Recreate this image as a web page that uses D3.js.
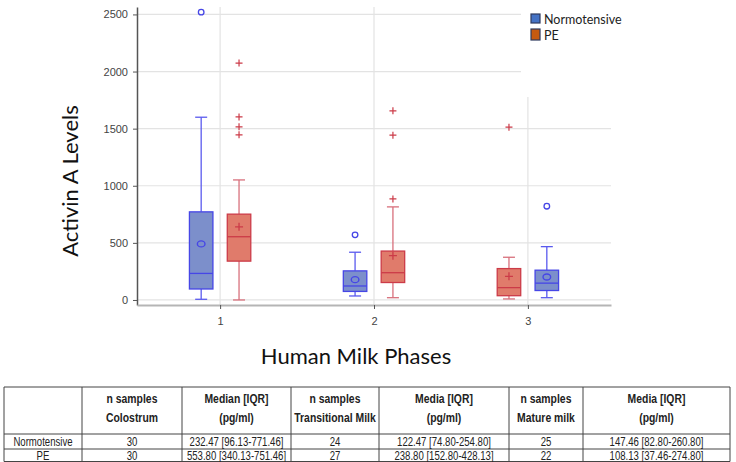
<!DOCTYPE html>
<html>
<head>
<meta charset="utf-8">
<script src="https://cdn.jsdelivr.net/npm/d3@7"></script>
<style>
  body { margin: 0; background: #fff; }
  svg { display: block; }
</style>
</head>
<body>
<svg></svg>
<script>
// phases on the x axis
const phases = [1, 2, 3];
const groups = ["Normotensive", "PE"];

// Normotensive box stats, one entry per phase
const normoMin = [6, 35, 20];
const normoQ1 = [96.13, 74.8, 82.8];
const normoMedian = [232.47, 122.47, 147.46];
const normoQ3 = [771.46, 254.8, 260.8];
const normoMax = [1600, 418, 467];
const normoMean = [491, 178, 201];
const normoOutliers = [[2520], [570], [821]];

// PE box stats
const peMin = [0, 20, 9];
const peQ1 = [340.13, 152.8, 37.46];
const peMedian = [553.8, 238.8, 108.13];
const peQ3 = [751.46, 428.13, 274.8];
const peMax = [1051, 815, 374];
const peMean = [640, 388, 207];
const peOutliers = [[2074, 1603, 1516, 1446], [1656, 1443, 885], [1513]];

const yTicks = [0, 500, 1000, 1500, 2000, 2500];

// table content
const tableHeader1 = ["", "n samples", "Median [IQR]", "n samples", "Media [IQR]", "n samples", "Media [IQR]"];
const tableHeader2 = ["", "Colostrum", "(pg/ml)", "Transitional Milk", "(pg/ml)", "Mature milk", "(pg/ml)"];
const tableNormo = ["Normotensive", "30", "232.47 [96.13-771.46]", "24", "122.47 [74.80-254.80]", "25", "147.46 [82.80-260.80]"];
const tablePE = ["PE", "30", "553.80 [340.13-751.46]", "27", "238.80 [152.80-428.13]", "22", "108.13 [37.46-274.80]"];

const width = 736,
    height = 462;

const svg = d3.select("svg").attr("width", width).attr("height", height);

const xScale = d3.scaleLinear().domain([0.46, 3.54]).range([137, 611]);
const yScale = d3.scaleLinear().domain([-44, 2565]).range([305, 7]);

const series = [
    {
        name: "Normotensive",
        min: normoMin, q1: normoQ1, med: normoMedian, q3: normoQ3, max: normoMax,
        mean: normoMean, out: normoOutliers,
        offset: [-0.123, -0.123, 0.123],
        fill: "#7c8fcb", stroke: "#4646e6", whisker: "#5a5aee", marker: "circle"
    },
    {
        name: "PE",
        min: peMin, q1: peQ1, med: peMedian, q3: peQ3, max: peMax,
        mean: peMean, out: peOutliers,
        offset: [0.123, 0.123, -0.123],
        fill: "#e07b6b", stroke: "#cc3b48", whisker: "#d8707c", marker: "plus"
    }
];

const boxW = 23.5,
    capW = 12;

// grid
const grid = svg.append("g");
grid.selectAll(".hgrid")
    .data(yTicks)
    .enter()
    .append("line")
    .attr("x1", xScale(0.46))
    .attr("x2", xScale(3.54))
    .attr("y1", (d) => yScale(d))
    .attr("y2", (d) => yScale(d))
    .attr("stroke", "#e3e3e3")
    .attr("stroke-width", 1.2);
grid.selectAll(".vgrid")
    .data(phases)
    .enter()
    .append("line")
    .attr("x1", (d) => xScale(d))
    .attr("x2", (d) => xScale(d))
    .attr("y1", yScale(2565))
    .attr("y2", yScale(-44))
    .attr("stroke", "#e3e3e3")
    .attr("stroke-width", 1.2);

// legend background hides the grid behind it
svg.append("rect")
    .attr("x", 521)
    .attr("y", 0)
    .attr("width", 110)
    .attr("height", 97)
    .attr("fill", "#fff");

// axes
const yAxis = d3.axisLeft(yScale)
    .tickValues(yTicks)
    .tickFormat(d3.format("d"))
    .tickSize(4)
    .tickSizeOuter(0);
const gy = svg.append("g")
    .attr("transform", "translate(137, 0)")
    .call(yAxis);
gy.select(".domain").attr("stroke", "#555").attr("stroke-width", 1.5);
gy.selectAll(".tick line").attr("stroke", "#555");
gy.selectAll(".tick text")
    .attr("x", -9)
    .attr("fill", "#444")
    .style("font", "11px 'Liberation Sans', Arial, sans-serif");

const xAxis = d3.axisBottom(xScale)
    .tickValues(phases)
    .tickFormat(d3.format("d"))
    .tickSize(4)
    .tickSizeOuter(0);
const gx = svg.append("g")
    .attr("transform", "translate(0, 305)")
    .call(xAxis);
gx.select(".domain").attr("stroke", "#b5b5b5").attr("stroke-width", 2);
gx.selectAll(".tick line").attr("stroke", "#555");
gx.selectAll(".tick text")
    .attr("y", 12)
    .attr("fill", "#444")
    .style("font", "11px 'Liberation Sans', Arial, sans-serif");

// boxes
series.forEach((s) => {
    const g = svg.append("g");
    phases.forEach((p, i) => {
        const cx = xScale(p + s.offset[i]);
        // whiskers
        g.append("line")
            .attr("x1", cx).attr("x2", cx)
            .attr("y1", yScale(s.q3[i])).attr("y2", yScale(s.max[i]))
            .attr("stroke", s.whisker).attr("stroke-width", 1.3);
        g.append("line")
            .attr("x1", cx).attr("x2", cx)
            .attr("y1", yScale(s.q1[i])).attr("y2", yScale(s.min[i]))
            .attr("stroke", s.whisker).attr("stroke-width", 1.3);
        [s.max[i], s.min[i]].forEach((v) => {
            g.append("line")
                .attr("x1", cx - capW / 2).attr("x2", cx + capW / 2)
                .attr("y1", yScale(v)).attr("y2", yScale(v))
                .attr("stroke", s.whisker).attr("stroke-width", 1.3);
        });
        // box
        g.append("rect")
            .attr("x", cx - boxW / 2)
            .attr("y", yScale(s.q3[i]))
            .attr("width", boxW)
            .attr("height", yScale(s.q1[i]) - yScale(s.q3[i]))
            .attr("fill", s.fill)
            .attr("stroke", s.stroke)
            .attr("stroke-width", 1.3);
        g.append("line")
            .attr("x1", cx - boxW / 2).attr("x2", cx + boxW / 2)
            .attr("y1", yScale(s.med[i])).attr("y2", yScale(s.med[i]))
            .attr("stroke", s.stroke).attr("stroke-width", 1.3);
        // mean marker
        if (s.marker === "circle") {
            g.append("ellipse")
                .attr("cx", cx).attr("cy", yScale(s.mean[i]))
                .attr("rx", 3.8).attr("ry", 3)
                .attr("fill", "none").attr("stroke", s.stroke).attr("stroke-width", 1.4);
        } else {
            g.append("path")
                .attr("d", `M${cx - 4},${yScale(s.mean[i])}h8M${cx},${yScale(s.mean[i]) - 4}v8`)
                .attr("stroke", s.stroke).attr("stroke-width", 1.3);
        }
        // outliers
        s.out[i].forEach((v) => {
            if (s.marker === "circle") {
                g.append("circle")
                    .attr("cx", cx).attr("cy", yScale(v)).attr("r", 2.8)
                    .attr("fill", "none").attr("stroke", s.stroke).attr("stroke-width", 1.3);
            } else {
                g.append("path")
                    .attr("d", `M${cx - 3.5},${yScale(v)}h7M${cx},${yScale(v) - 3.5}v7`)
                    .attr("stroke", s.stroke).attr("stroke-width", 1.2);
            }
        });
    });
});

// legend
const legendColors = ["#4472c4", "#c55a11"];
const legend = svg.append("g").attr("transform", "translate(531, 14)");
groups.forEach((name, i) => {
    legend.append("rect")
        .attr("x", 0).attr("y", i * 15)
        .attr("width", 9).attr("height", i === 0 ? 9 : 11)
        .attr("fill", legendColors[i])
        .attr("stroke", "#2d3a5e").attr("stroke-width", 1.2);
    legend.append("text")
        .attr("x", 13).attr("y", i * 16 + 10)
        .attr("fill", "#222")
        .style("font", "12.5px Lato, 'Open Sans', sans-serif")
        .text(name);
});

// axis titles
svg.append("text")
    .attr("transform", "translate(78, 181) rotate(-90)")
    .attr("text-anchor", "middle")
    .attr("fill", "#111")
    .style("font", "22px Lato, 'Open Sans', sans-serif")
    .text("Activin A Levels");
svg.append("text")
    .attr("x", 356).attr("y", 364)
    .attr("text-anchor", "middle")
    .attr("fill", "#111")
    .style("font", "22px Lato, 'Open Sans', sans-serif")
    .text("Human Milk Phases");

// table
const colX = [4, 82, 182, 291, 379, 509, 583, 730];
const rowY = [387, 434, 449, 461.5];
const tbl = svg.append("g");
tbl.selectAll(".hl")
    .data(rowY)
    .enter()
    .append("line")
    .attr("x1", colX[0]).attr("x2", colX[colX.length - 1])
    .attr("y1", (d) => d).attr("y2", (d) => d)
    .attr("stroke", "#444").attr("stroke-width", 1);
tbl.selectAll(".vl")
    .data(colX)
    .enter()
    .append("line")
    .attr("x1", (d) => d).attr("x2", (d) => d)
    .attr("y1", rowY[0]).attr("y2", rowY[3])
    .attr("stroke", "#444").attr("stroke-width", 1);

// narrow look: Liberation Sans squeezed horizontally
const addRow = (cells, y, bold) => {
    cells.forEach((t, i) => {
        tbl.append("text")
            .attr("transform", `translate(${(colX[i] + colX[i + 1]) / 2}, ${y}) scale(0.8, 1)`)
            .attr("text-anchor", "middle")
            .attr("fill", "#222")
            .style("font", (bold ? "13px" : "12px") + " 'Liberation Sans', Arial, sans-serif")
            .style("font-weight", bold ? "bold" : "normal")
            .text(t);
    });
};
addRow(tableHeader1, 403, true);
addRow(tableHeader2, 422, true);
addRow(tableNormo, 446, false);
addRow(tablePE, 459.5, false);
</script>
</body>
</html>
